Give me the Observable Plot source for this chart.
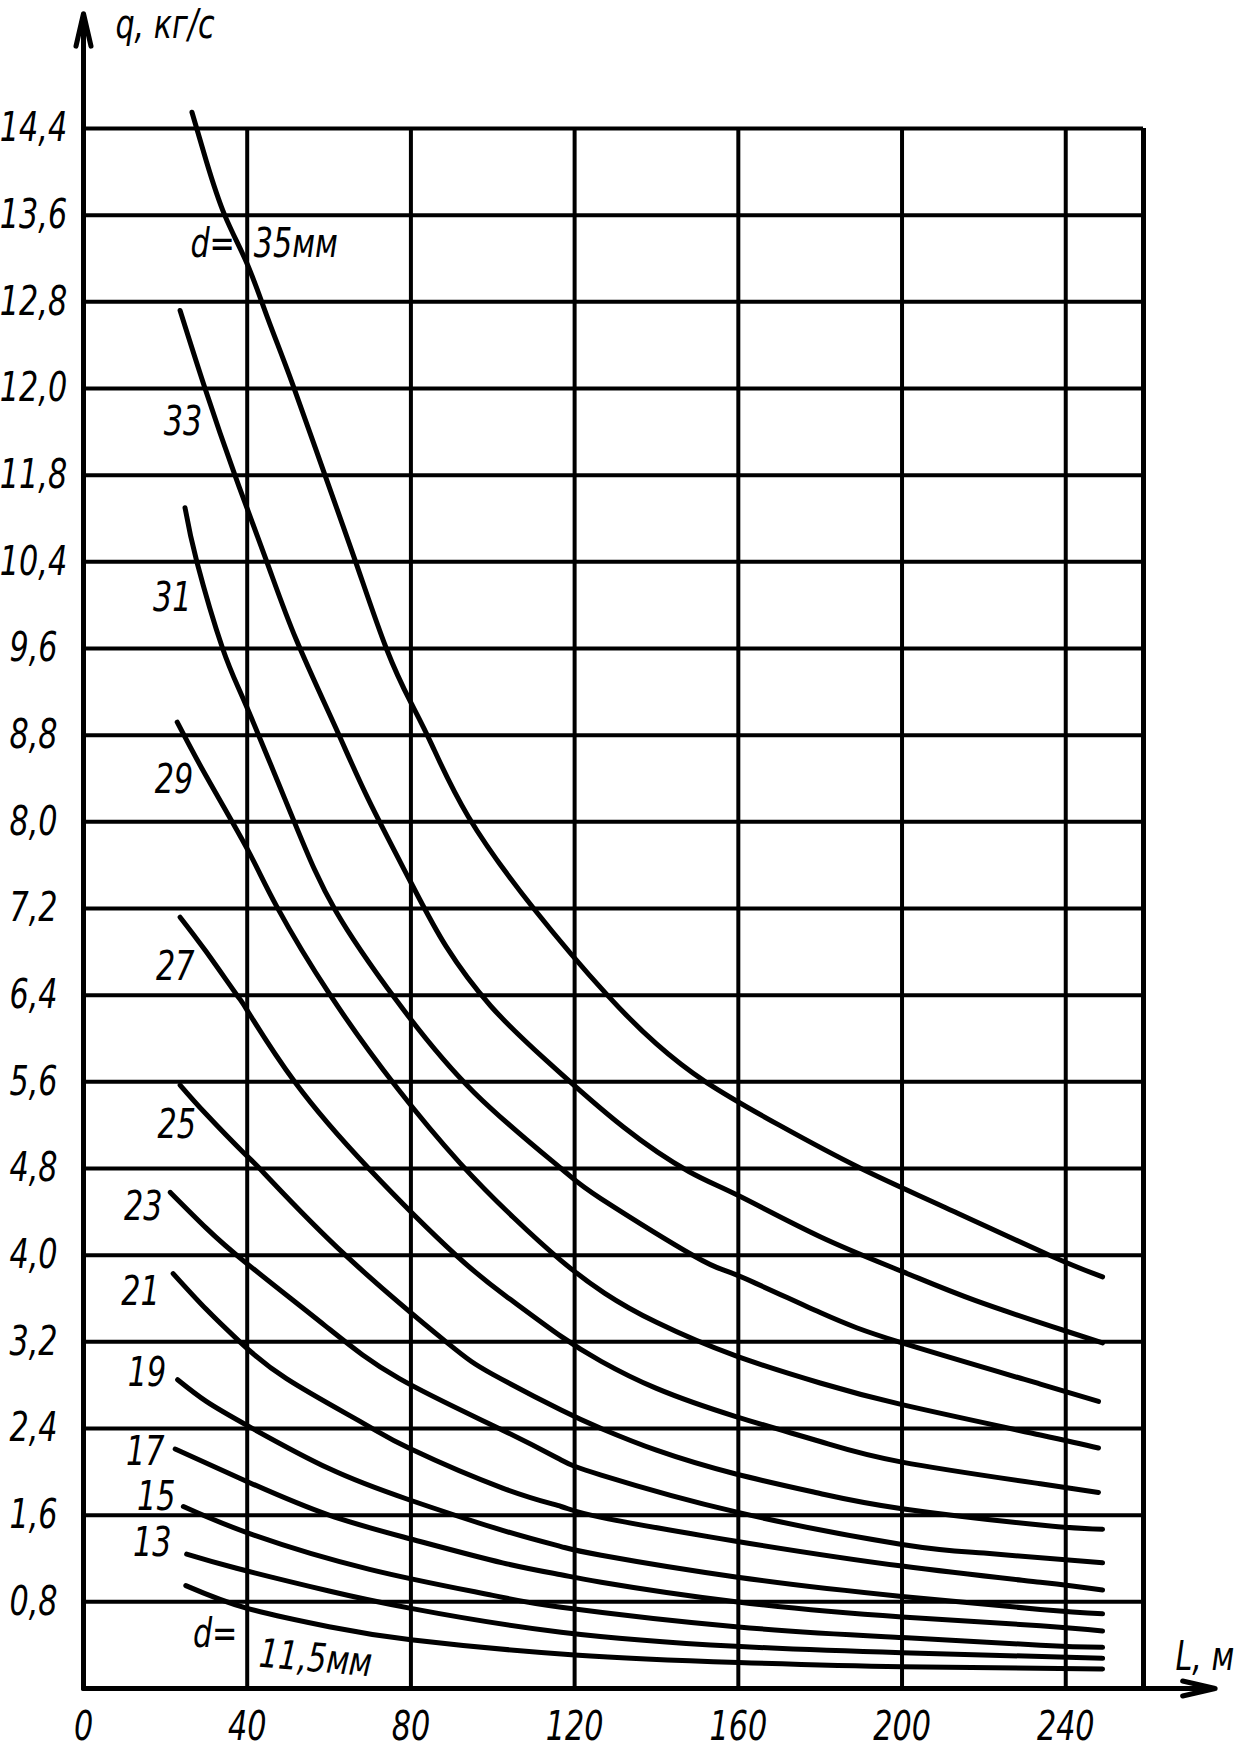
<!DOCTYPE html>
<html>
<head>
<meta charset="utf-8">
<script src="https://cdn.jsdelivr.net/npm/d3@7"></script>
<script src="https://cdn.jsdelivr.net/npm/@observablehq/plot@0.6"></script>
<style>
  html, body { margin: 0; padding: 0; background: #fff; }
</style>
</head>
<body>
<div id="chart"></div>
<script>
// ---- data (L in m, q in kg/s) ----
const d35 = [[26.5,14.55],[30,14.1],[34.5,13.6],[40,13.15],[45,12.65],[51,12.05],[59,11.2],[66.5,10.4],[74,9.6],[80,9.1],[85,8.72],[94,8.05],[110,7.2],[128,6.4],[140,5.95],[152,5.6],[170,5.2],[190,4.8],[210,4.45],[236,4.0],[249,3.8]];
const d33 = [[23.6,12.72],[29.7,12.0],[37,11.2],[44.8,10.4],[52,9.68],[61.6,8.87],[69.7,8.2],[80,7.44],[88.6,6.85],[99.5,6.3],[113,5.8],[132,5.18],[148,4.77],[160,4.55],[180,4.17],[200,3.85],[218,3.58],[240,3.3],[249,3.19]];
const d31 = [[24.8,10.9],[27.7,10.4],[34,9.6],[40,9.05],[51.5,8.0],[61.6,7.18],[76.5,6.35],[95.5,5.5],[116.7,4.8],[126.5,4.52],[149.3,3.99],[159.4,3.82],[180,3.47],[200,3.19],[233.8,2.81],[248,2.65]];
const d29 = [[22.9,8.92],[30,8.42],[40,7.75],[47.2,7.22],[60.3,6.4],[76.5,5.55],[92,4.85],[105,4.35],[116.7,3.95],[127.3,3.65],[140,3.38],[159.4,3.07],[180,2.82],[200,2.62],[233.8,2.34],[248,2.22]];
const d27 = [[23.6,7.12],[30,6.8],[37.5,6.4],[40,6.26],[51.6,5.6],[69.7,4.8],[91,4.0],[104,3.6],[116.7,3.25],[126.5,3.02],[140,2.77],[159.4,2.51],[180,2.28],[200,2.09],[233.8,1.89],[248,1.81]];
const d25 = [[23.6,5.57],[30,5.3],[39,4.95],[44.3,4.75],[64,4.0],[88.6,3.2],[100,2.9],[116.7,2.57],[126.5,2.4],[140,2.2],[159.4,1.98],[180,1.8],[200,1.66],[233.8,1.51],[249,1.47]];
const d23 = [[21.2,4.58],[30,4.25],[40,3.92],[59,3.35],[77.2,2.86],[102.4,2.385],[116.7,2.11],[126.5,1.97],[159.4,1.63],[200,1.33],[220,1.25],[249,1.16]];
const d21 = [[21.9,3.83],[30,3.5],[38.2,3.2],[49.6,2.86],[68.3,2.45],[80,2.21],[102.4,1.85],[116.7,1.68],[126.5,1.58],[159.4,1.36],[200,1.13],[233.8,0.98],[249,0.91]];
const d19 = [[23,2.85],[30,2.65],[40.6,2.415],[60,2.03],[79.7,1.74],[102.4,1.46],[116.7,1.31],[126.5,1.23],[159.4,1.03],[200,0.85],[233.8,0.73],[249,0.69]];
const d17 = [[22.4,2.21],[40.6,1.9],[60,1.6],[80,1.38],[102.4,1.16],[116.7,1.05],[126.5,0.98],[159.4,0.8],[200,0.66],[233.8,0.58],[249,0.53]];
const d15 = [[24.4,1.68],[40.6,1.43],[69.9,1.1],[100,0.86],[116.7,0.75],[159.4,0.57],[200,0.47],[233.8,0.4],[249,0.38]];
const d13 = [[25.2,1.24],[37.4,1.11],[60,0.9],[80,0.74],[116.7,0.52],[159.4,0.39],[200,0.33],[249,0.28]];
const d11_5 = [[25,0.95],[40,0.74],[60,0.57],[80,0.45],[120,0.31],[160,0.24],[200,0.2],[249,0.18]];

const diameters = ["35","33","31","29","27","25","23","21","19","17","15","13","11,5"];
const series = [d35,d33,d31,d29,d27,d25,d23,d21,d19,d17,d15,d13,d11_5];

// axis ticks
const yTickValues = [14.4,13.6,12.8,12.0,11.2,10.4,9.6,8.8,8.0,7.2,6.4,5.6,4.8,4.0,3.2,2.4,1.6,0.8];
const yTickLabels = ["14,4","13,6","12,8","12,0","11,8","10,4","9,6","8,8","8,0","7,2","6,4","5,6","4,8","4,0","3,2","2,4","1,6","0,8"];
const xTickValues = [0,40,80,120,160,200,240];
const xTickLabels = ["0","40","80","120","160","200","240"];
const xGrid = [40,80,120,160,200,240];
const xFrame = 259;   // right border of the grid
const yTop = 14.4;

// curve labels (text, L, q)
const curveLabelText = ["33","31","29","27","25","23","21","19","17","15","13"];
const curveLabelL = [24.3,21.7,22.1,22.4,22.8,14.6,13.9,15.5,15.1,17.8,16.8];
const curveLabelQ = [11.69,10.06,8.38,6.66,5.2,4.44,3.66,2.91,2.18,1.77,1.34];

// ---- build table ----
const rows = [];
series.forEach((s, i) => s.forEach(([L, q]) => rows.push({d: diameters[i], L, q})));

const FONT = "'Liberation Sans Narrow', 'DejaVu Sans Condensed', 'DejaVu Sans', sans-serif";
const textStyle = {fontFamily: FONT, fontStyle: "italic", fill: "black", fontSize: 40};

const chart = Plot.plot({
  width: 1243,
  height: 1747,
  marginLeft: 83,
  marginRight: 100,
  marginTop: 128,
  marginBottom: 59,
  x: {domain: [0, xFrame], axis: null},
  y: {domain: [0, yTop], axis: null},
  style: {background: "white", overflow: "visible"},
  marks: [
    // horizontal grid lines
    Plot.ruleY(yTickValues, {x1: 0, x2: xFrame, stroke: "black", strokeWidth: 4}),
    // vertical grid lines
    Plot.ruleX(xGrid, {y1: 0, y2: yTop, stroke: "black", strokeWidth: 4}),
    // right frame
    Plot.ruleX([xFrame], {y1: 0, y2: yTop, stroke: "black", strokeWidth: 5}),
    // axes with arrows
    Plot.arrow([{x1: 0, y1: 0, x2: 0, y2: 15.46}], {x1: "x1", y1: "y1", x2: "x2", y2: "y2", stroke: "black", strokeWidth: 5, headAngle: 26, headLength: 10}),
    Plot.arrow([{x1: 0, y1: 0, x2: 276.5, y2: 0}], {x1: "x1", y1: "y1", x2: "x2", y2: "y2", stroke: "black", strokeWidth: 5, headAngle: 26, headLength: 10}),
    // curves
    Plot.line(rows, {x: "L", y: "q", z: "d", curve: "natural", stroke: "black", strokeWidth: 5, strokeLinecap: "round"}),
    // y tick labels
    Plot.text(yTickValues, {x: 0, y: d => d, text: (d, i) => yTickLabels[i], textAnchor: "middle", dx: -50, ...textStyle}),
    // x tick labels
    Plot.text(xTickValues, {x: d => d, y: 0, text: (d, i) => xTickLabels[i], textAnchor: "middle", dy: 39, ...textStyle}),
    // axis titles
    Plot.text(["q, кг/с"], {x: 7.8, y: 15.35, text: d => d, textAnchor: "start", ...textStyle}),
    Plot.text(["L, м"], {x: 274, y: 0.29, text: d => d, textAnchor: "middle", ...textStyle}),
    // curve labels
    Plot.text(curveLabelText, {x: (d, i) => curveLabelL[i], y: (d, i) => curveLabelQ[i], text: d => d, textAnchor: "middle", ...textStyle}),
    // d = 35 mm
    Plot.text(["d="], {x: 37, y: 13.33, text: d => d, textAnchor: "end", ...textStyle}),
    Plot.text(["35мм"], {x: 41.6, y: 13.33, text: d => d, textAnchor: "start", ...textStyle}),
    // d = 11,5 mm
    Plot.text(["d="], {x: 37.6, y: 0.5, text: d => d, textAnchor: "end", ...textStyle}),
    Plot.text(["11,5мм"], {x: 43, y: 0.32, text: d => d, textAnchor: "start", rotate: 5, ...textStyle})
  ]
});

document.getElementById("chart").appendChild(chart);

// narrow the lettering like the drafting font of the original
chart.querySelectorAll("text").forEach(t => {
  const len = t.getComputedTextLength();
  if (len > 0) {
    t.setAttribute("textLength", (len * 0.84).toFixed(1));
    t.setAttribute("lengthAdjust", "spacingAndGlyphs");
  }
});
</script>
</body>
</html>
